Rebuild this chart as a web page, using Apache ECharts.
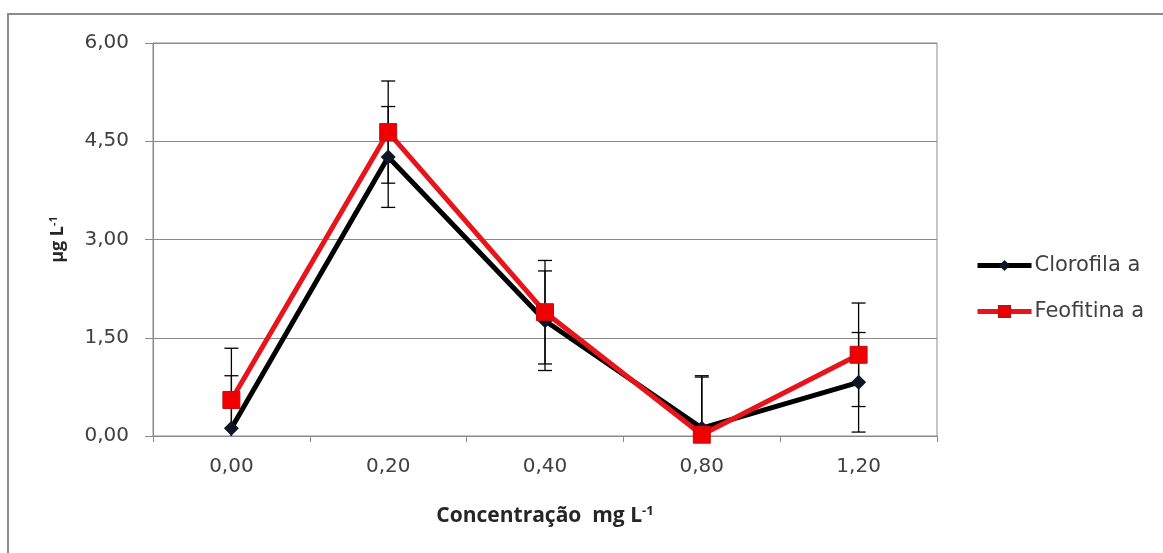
<!DOCTYPE html>
<html>
<head>
<meta charset="utf-8">
<script src="https://cdn.jsdelivr.net/npm/echarts@6/dist/echarts.min.js"></script>
<style>
  html, body { margin: 0; padding: 0; background: #fff; }
  #chart { width: 1163px; height: 553px; }
</style>
</head>
<body>
<div id="chart"></div>
<script>
// categorias do eixo x (concentração)
const categories = ["0,00", "0,20", "0,40", "0,80", "1,20"];
// valores
const clorofila = [0.12, 4.26, 1.76, 0.12, 0.82];
const clorofilaErr = [0.8, 0.77, 0.76, 0.78, 0.76];
const feofitina = [0.55, 4.64, 1.89, 0.02, 1.24];
const feofitinaErr = [0.79, 0.78, 0.79, 0.9, 0.79];

const chart = echarts.init(document.getElementById("chart"));

function errData(values, errs) {
  return values.map((v, i) => [i, v - errs[i], v + errs[i]]);
}

// barras de erro desenhadas com série custom
function renderError(params, api) {
  const cs = params.coordSys;
  const x = api.value(0);
  const top = api.coord([x, api.value(2)]);
  const low = api.coord([x, api.value(1)]);
  const bottomEdge = cs.y + cs.height;
  const half = 7;
  const children = [];
  let y2 = low[1];
  let lowCap = true;
  if (y2 > bottomEdge) {
    y2 = bottomEdge;
    lowCap = false;
  }
  const style = { stroke: "#000", lineWidth: 1.3 };
  children.push({ type: "line", shape: { x1: top[0], y1: top[1], x2: top[0], y2: y2 }, style });
  children.push({ type: "line", shape: { x1: top[0] - half, y1: top[1], x2: top[0] + half, y2: top[1] }, style });
  if (lowCap) {
    children.push({ type: "line", shape: { x1: low[0] - half, y1: low[1], x2: low[0] + half, y2: low[1] }, style });
  }
  return { type: "group", children };
}

const option = {
  animation: false,
  backgroundColor: "#fff",
  graphic: [
    {
      type: "rect",
      shape: { x: 8, y: 14, width: 1300, height: 700 },
      style: { fill: "none", stroke: "#8a8a8a", lineWidth: 2 },
      silent: true,
      z: -10,
    },
  ],
  grid: {
    left: 153,
    top: 43,
    right: 226,
    bottom: 117,
    show: true,
    borderColor: "#8a8a8a",
    borderWidth: 1,
  },
  legend: {
    orient: "vertical",
    left: 970,
    top: 250,
    itemWidth: 54,
    itemHeight: 14,
    itemGap: 25,
    lineStyle: { width: 5 },
    textStyle: { fontFamily: "DejaVu Sans", fontSize: 21, color: "#404040", padding: [0, 0, 0, -2] },
    data: ["Clorofila a", "Feofitina a"],
  },
  xAxis: {
    type: "category",
    data: categories,
    boundaryGap: true,
    axisLine: { lineStyle: { color: "#8a8a8a", width: 1 } },
    axisTick: { show: true, length: 6, lineStyle: { color: "#8a8a8a" } },
    axisLabel: { fontFamily: "DejaVu Sans", fontSize: 20, color: "#404040", margin: 21 },
    name: "{t|Concentração  mg L}{s|-1}",
    nameLocation: "middle",
    nameGap: 69,
    nameTextStyle: {
      rich: {
        t: { fontFamily: "Open Sans", fontWeight: "bold", fontSize: 21, color: "#262626" },
        s: { fontFamily: "Open Sans", fontWeight: "bold", fontSize: 13, color: "#262626", verticalAlign: "top", padding: [0, 0, 10, 0] },
      },
    },
  },
  yAxis: {
    type: "value",
    min: 0,
    max: 6,
    interval: 1.5,
    axisLine: { show: true, lineStyle: { color: "#8a8a8a", width: 1 } },
    axisTick: { show: true, length: 8, lineStyle: { color: "#8a8a8a" } },
    splitLine: { lineStyle: { color: "#8a8a8a", width: 1 } },
    axisLabel: {
      fontFamily: "DejaVu Sans",
      fontSize: 20,
      color: "#404040",
      margin: 24,
      formatter: (v) => v.toFixed(2).replace(".", ","),
    },
    name: "{t|µg L}{s|-1}",
    nameLocation: "middle",
    nameGap: 86,
    nameRotate: 90,
    nameTextStyle: {
      rich: {
        t: { fontFamily: "Open Sans", fontWeight: "bold", fontSize: 18, color: "#262626" },
        s: { fontFamily: "Open Sans", fontWeight: "bold", fontSize: 11, color: "#262626", verticalAlign: "top", padding: [0, 0, 8, 0] },
      },
    },
  },
  series: [
    {
      type: "custom",
      renderItem: renderError,
      data: errData(clorofila, clorofilaErr),
      z: 1,
      silent: true,
    },
    {
      type: "custom",
      renderItem: renderError,
      data: errData(feofitina, feofitinaErr),
      z: 1,
      silent: true,
    },
    {
      name: "Clorofila a",
      type: "line",
      data: clorofila,
      symbol: "diamond",
      symbolSize: 15,
      lineStyle: { color: "#000", width: 5 },
      itemStyle: { color: "#0d1626" },
      z: 3,
    },
    {
      name: "Feofitina a",
      type: "line",
      data: feofitina,
      symbol: "rect",
      symbolSize: 17,
      lineStyle: { color: "#e8141c", width: 5 },
      itemStyle: { color: "#f00000", borderColor: "#c01010", borderWidth: 1 },
      z: 4,
    },
  ],
};

chart.setOption(option);
</script>
</body>
</html>
